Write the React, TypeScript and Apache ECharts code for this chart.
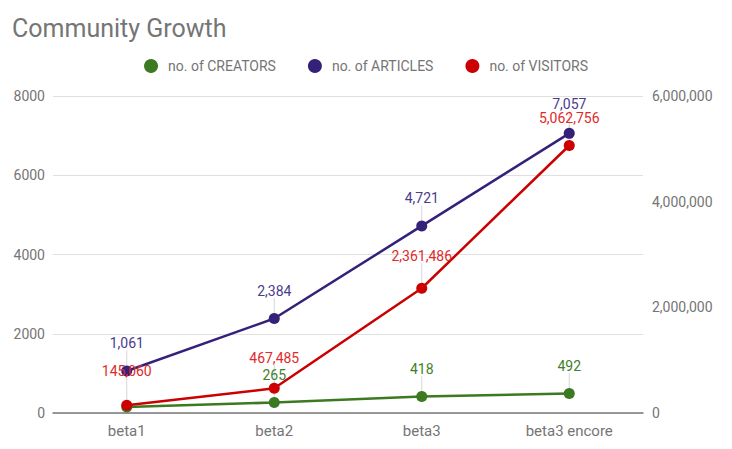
import React, { useEffect, useRef } from "react";
import * as echarts from "echarts";

const categories = ["beta1", "beta2", "beta3", "beta3 encore"];
const creators = [150, 265, 418, 492];
const articles = [1061, 2384, 4721, 7057];
const visitors = [145060, 467485, 2361486, 5062756];
const creatorsLabelShown = [false, true, true, true];

const GREEN = "#3b7a21";
const PURPLE = "#35217a";
const RED = "#cc0000";
const GRAY = "#757575";

const fmt = (v: number) => v.toLocaleString("en-US");

export default function App() {
  const ref = useRef<HTMLDivElement>(null);
  useEffect(() => {
    document.body.style.margin = "0";
    if (!ref.current) return;
    const chart = echarts.init(ref.current, undefined, { renderer: "svg" });
    const labelCommon = (color: string) => ({
      show: true,
      position: "top" as const,
      distance: 2,
      color,
      fontSize: 14,
      fontFamily: "Roboto",
      formatter: (p: any) => fmt(p.value),
    });
    const labelLine = { show: true, lineStyle: { color: "#d6d6d6", width: 1 } };
    const redDy = [-20, -16, -18, -13];
    chart.setOption({
      animation: false,
      textStyle: { fontFamily: "Roboto" },
      title: {
        text: "Community Growth",
        left: 12,
        top: 16,
        padding: 0,
        textStyle: { fontSize: 25, fontWeight: "normal", color: GRAY, fontFamily: "Roboto" },
      },
      legend: {
        top: 54,
        left: "center",
        icon: "circle",
        itemWidth: 14,
        itemHeight: 14,
        itemGap: 32,
        textStyle: { fontSize: 14, color: GRAY, fontFamily: "Roboto", padding: [0, 0, 0, 5] },
        data: ["no. of CREATORS", "no. of ARTICLES", "no. of VISITORS"],
      },
      grid: { left: 53, right: 89, top: 96, bottom: 36 },
      xAxis: {
        type: "category",
        data: categories,
        axisTick: { show: false },
        axisLine: { lineStyle: { color: "#7a7a7a", width: 1.5 } },
        axisLabel: { color: GRAY, fontSize: 15, margin: 10, fontFamily: "Roboto" },
      },
      yAxis: [
        {
          type: "value",
          min: 0,
          max: 8000,
          interval: 2000,
          axisLine: { show: false },
          axisTick: { show: false },
          axisLabel: {
            color: GRAY,
            fontSize: 14,
            margin: 8,
            fontFamily: "Roboto",
            formatter: (v: number) => String(v),
          },
          splitLine: { lineStyle: { color: "#e0e0e0", width: 1 } },
        },
        {
          type: "value",
          min: 0,
          max: 6000000,
          interval: 2000000,
          axisLine: { show: false },
          axisTick: { show: false },
          axisLabel: {
            color: GRAY,
            fontSize: 14,
            margin: 9,
            fontFamily: "Roboto",
            formatter: (v: number) => fmt(v),
          },
          splitLine: { show: false },
        },
      ],
      series: [
        {
          name: "no. of CREATORS",
          type: "line",
          yAxisIndex: 0,
          data: creators.map((v, i) => ({
            value: v,
            label: { show: creatorsLabelShown[i] },
            labelLine: { show: creatorsLabelShown[i] },
          })),
          color: GREEN,
          symbol: "circle",
          symbolSize: 11,
          lineStyle: { width: 2.5, color: GREEN },
          label: labelCommon("#3f7f2a"),
          labelLayout: { dy: -13 },
          labelLine,
        },
        {
          name: "no. of ARTICLES",
          type: "line",
          yAxisIndex: 0,
          data: articles,
          color: PURPLE,
          symbol: "circle",
          symbolSize: 11,
          lineStyle: { width: 2.5, color: PURPLE },
          label: labelCommon("#4a3c8c"),
          labelLayout: (p: any) => ({ dy: p.dataIndex === 3 ? -15 : -13 }),
          labelLine,
        },
        {
          name: "no. of VISITORS",
          type: "line",
          yAxisIndex: 1,
          data: visitors,
          color: RED,
          symbol: "circle",
          symbolSize: 11,
          lineStyle: { width: 2.5, color: RED },
          label: labelCommon("#e02a2a"),
          labelLayout: (p: any) => ({ dy: redDy[p.dataIndex] }),
          labelLine,
        },
      ],
    });
    return () => chart.dispose();
  }, []);
  return <div ref={ref} style={{ width: 732, height: 449 }} />;
}
